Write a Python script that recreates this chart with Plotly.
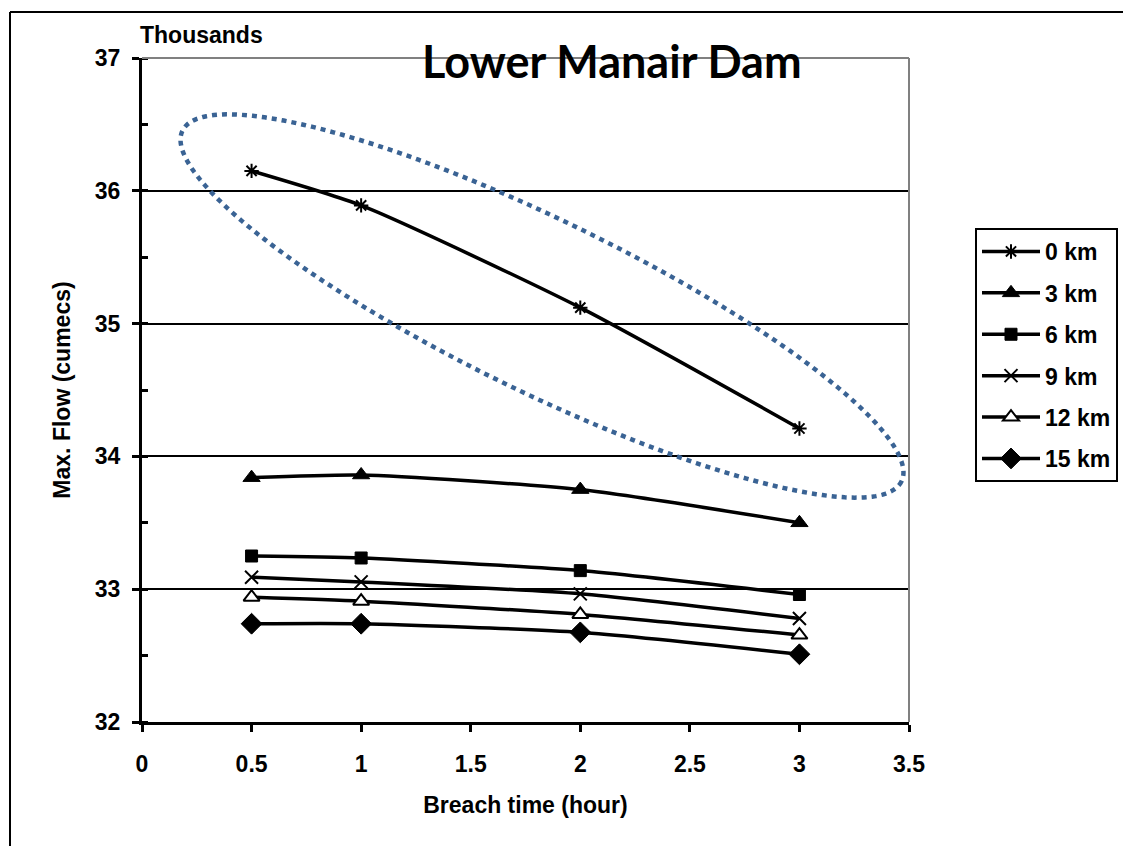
import numpy as np
import plotly.graph_objects as go

breach_time = [0.5, 1, 2, 3]
series_names = ["0 km", "3 km", "6 km", "9 km", "12 km", "15 km"]
flow_0km = [36.15, 35.89, 35.12, 34.21]
flow_3km = [33.84, 33.86, 33.75, 33.50]
flow_6km = [33.25, 33.235, 33.14, 32.96]
flow_9km = [33.09, 33.055, 32.965, 32.78]
flow_12km = [32.94, 32.91, 32.81, 32.655]
flow_15km = [32.74, 32.74, 32.675, 32.51]
x_ticks = [0, 0.5, 1, 1.5, 2, 2.5, 3, 3.5]
y_ticks = [32, 33, 34, 35, 36, 37]

series_values = [flow_0km, flow_3km, flow_6km, flow_9km, flow_12km, flow_15km]
markers = [
    dict(symbol="asterisk-open", size=12, color="black", line=dict(color="black", width=2)),
    dict(symbol="triangle-up", size=15, color="black", line=dict(color="black", width=1)),
    dict(symbol="square", size=12, color="black", line=dict(color="black", width=1)),
    dict(symbol="x-thin-open", size=13, color="black", line=dict(color="black", width=2)),
    dict(symbol="triangle-up", size=14, color="white", line=dict(color="black", width=2)),
    dict(symbol="diamond", size=16, color="black", line=dict(color="black", width=1)),
]

FONT = "Liberation Sans, Arial, sans-serif"
W, H = 1123, 846
L, R, T, B = 142, 1123 - 909, 58, 846 - 722
PW, PH = W - L - R, H - T - B


def px(x):
    return (x - L) / PW


def py(y):
    return (H - B - y) / PH


fig = go.Figure()
for name, vals, mk in zip(series_names, series_values, markers):
    fig.add_trace(go.Scatter(
        x=breach_time, y=vals, name=name, legendgroup=name,
        mode="lines+markers",
        line=dict(color="black", width=3.5, shape="spline", smoothing=0.6),
        marker=mk,
    ))

# highlight ellipse (pixel-space parameters converted to paper coords)
cx, cy, a, b, phi = 542, 306, 400, 86, np.deg2rad(26)
t = np.linspace(0, 2 * np.pi, 240)
ex = cx + a * np.cos(t) * np.cos(phi) - b * np.sin(t) * np.sin(phi)
ey = cy + a * np.cos(t) * np.sin(phi) + b * np.sin(t) * np.cos(phi)
path = "M " + " L ".join(f"{px(u):.5f},{py(v):.5f}" for u, v in zip(ex, ey)) + " Z"

shapes = [
    dict(type="path", path=path, xref="paper", yref="paper",
         line=dict(color="#3A6394", width=4.5, dash="5px,5px"), layer="above"),
    # outer chart border (left and top edges visible)
    dict(type="line", xref="paper", yref="paper",
         x0=px(10), x1=px(1200), y0=py(12), y1=py(12),
         line=dict(color="black", width=2)),
    dict(type="line", xref="paper", yref="paper",
         x0=px(10), x1=px(10), y0=py(12), y1=py(900),
         line=dict(color="black", width=2)),
    # grey plot-area border (top and right)
    dict(type="line", xref="paper", yref="paper", x0=0, x1=1, y0=1, y1=1,
         line=dict(color="#808080", width=2)),
    dict(type="line", xref="paper", yref="paper", x0=1, x1=1, y0=0, y1=1,
         line=dict(color="#808080", width=2)),
]

fig.update_layout(
    width=W, height=H,
    margin=dict(l=L, r=R, t=T, b=B, autoexpand=False),
    paper_bgcolor="white", plot_bgcolor="white",
    font=dict(family=FONT, size=23, color="black", weight="bold"),
    showlegend=True,
    legend=dict(
        x=px(975), y=py(228), xanchor="left", yanchor="top",
        bgcolor="white", bordercolor="black", borderwidth=2,
        font=dict(family=FONT, size=23, weight="bold"),
        tracegroupgap=8.5, itemwidth=58,
    ),
    shapes=shapes,
    annotations=[
        dict(text="Lower Manair Dam", xref="paper", yref="paper",
             x=px(612), y=py(61), xanchor="center", yanchor="middle",
             showarrow=False, font=dict(family="Lato, Carlito, sans-serif", size=45, weight="bold")),
        dict(text="Thousands", xref="paper", yref="paper",
             x=px(201), y=py(35), xanchor="center", yanchor="middle",
             showarrow=False, font=dict(family=FONT, size=23, weight="bold")),
    ],
    xaxis=dict(
        range=[0, 3.5], tickvals=x_ticks, ticktext=[f"{v:g}" for v in x_ticks],
        showline=True, linecolor="black", linewidth=3,
        ticks="outside", ticklen=7, tickwidth=3, tickcolor="black",
        ticklabelstandoff=12,
        showgrid=False, zeroline=False,
        tickfont=dict(family=FONT, size=23, weight="bold"),
        title=dict(text="Breach time (hour)", standoff=22,
                   font=dict(family=FONT, size=23, weight="bold")),
    ),
    yaxis=dict(
        range=[32, 37], tickvals=y_ticks, ticktext=[f"{v:g}" for v in y_ticks],
        showline=True, linecolor="black", linewidth=3,
        ticks="outside", ticklen=7, tickwidth=3, tickcolor="black",
        ticklabelstandoff=7,
        minor=dict(dtick=0.5, ticks="inside", ticklen=6, tickwidth=3, tickcolor="black", showgrid=False),
        showgrid=True, gridcolor="black", gridwidth=1.5, zeroline=False,
        tickfont=dict(family=FONT, size=23, weight="bold"),
        title=dict(text="Max. Flow (cumecs)", standoff=18,
                   font=dict(family=FONT, size=23, weight="bold")),
    ),
)

fig.write_html("out.html")
